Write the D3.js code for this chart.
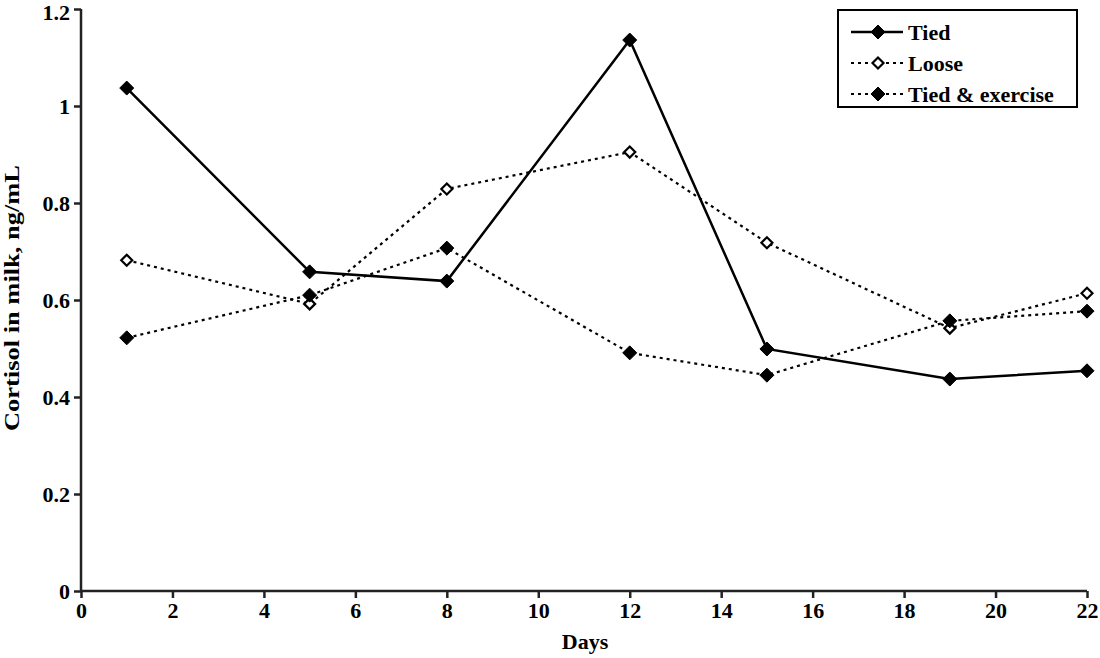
<!DOCTYPE html>
<html><head><meta charset="utf-8">
<script src="https://cdn.jsdelivr.net/npm/d3@7"></script>
<style>body{margin:0;background:#fff}svg{display:block}</style>
</head><body><svg id="c" width="1100" height="658"></svg>
<script>
const days = [1, 5, 8, 12, 15, 19, 22];
const tied = [1.037, 0.658, 0.639, 1.136, 0.499, 0.437, 0.454];
const loose = [0.682, 0.592, 0.829, 0.905, 0.718, 0.542, 0.614];
const tiedExercise = [0.522, 0.610, 0.707, 0.491, 0.445, 0.557, 0.577];
const xTicks = [0, 2, 4, 6, 8, 10, 12, 14, 16, 18, 20, 22];
const yTicks = [0, 0.2, 0.4, 0.6, 0.8, 1, 1.2];
const seriesNames = ["Tied", "Loose", "Tied & exercise"];

const FONT = "'Liberation Serif', 'Times New Roman', Times, serif";
const svg = d3.select("#c");
const x = d3.scaleLinear().domain([0, 22]).range([81, 1087]);
const y = d3.scaleLinear().domain([0, 1.2]).range([591, 9]);

const series = [
  {name: seriesNames[0], vals: tied, dash: null, fill: "#000"},
  {name: seriesNames[1], vals: loose, dash: "3,4", fill: "#fff"},
  {name: seriesNames[2], vals: tiedExercise, dash: "3,4", fill: "#000"}
];

function diamond(r) { return `M0,${-r}L${r},0L0,${r}L${-r},0Z`; }

function styleText(sel, size) {
  sel.attr("font-family", FONT).style("font-family", FONT).attr("font-weight", "bold")
     .style("font-weight", "bold").attr("font-size", size).style("font-size", size + "px").attr("fill", "#000");
  return sel;
}

// axes
const xAxis = d3.axisBottom(x).tickValues(xTicks).tickFormat(d3.format("d")).tickSize(7).tickSizeOuter(0);
const yAxis = d3.axisLeft(y).tickValues(yTicks).tickFormat(d => d === 0 || d === 1 ? String(d) : d3.format(".1f")(d)).tickSize(7).tickSizeOuter(0);
const gx = svg.append("g").attr("transform", "translate(0,591)").call(xAxis);
const gy = svg.append("g").attr("transform", "translate(81,0)").call(yAxis);
[gx, gy].forEach(g => {
  g.attr("font-family", FONT).attr("font-size", 22);
  g.select(".domain").attr("stroke", "#222").attr("stroke-width", 2.5);
  g.selectAll(".tick line").attr("stroke", "#222").attr("stroke-width", 2.5);
  styleText(g.selectAll("text"), 22);
});
gx.selectAll("text").attr("dy", 0).attr("y", 27);
gy.selectAll("text").attr("x", -11).attr("dy", d => d === 1.2 ? "0.48em" : "0.34em");
gy.select(".domain").attr("d", "M0,591V9");
gx.select(".domain").attr("d", "M81,0H1087");

styleText(svg.append("text").attr("x", 585).attr("y", 649).attr("text-anchor", "middle").text("Days"), 22);
styleText(svg.append("text").attr("transform", "translate(19,298) rotate(-90)").attr("text-anchor", "middle")
  .attr("textLength", 266).attr("lengthAdjust", "spacingAndGlyphs").text("Cortisol in milk, ng/mL"), 21);

const line = d3.line().x(d => x(d[0])).y(d => y(d[1]));

series.forEach(s => {
  const pts = days.map((d, i) => [d, s.vals[i]]);
  svg.append("path").attr("d", line(pts)).attr("fill", "none").attr("stroke", "#000")
    .attr("stroke-width", s.dash ? 2.2 : 2.5).attr("stroke-dasharray", s.dash);
});
series.forEach(s => {
  const pts = days.map((d, i) => [d, s.vals[i]]);
  const hollow = s.fill === "#fff";
  svg.append("g").selectAll("path").data(pts).join("path")
    .attr("transform", d => `translate(${x(d[0])},${y(d[1])})`)
    .attr("d", hollow ? diamond(5.5) : diamond(7))
    .attr("fill", s.fill).attr("stroke", "#000").attr("stroke-width", hollow ? 2.2 : 1);
});

// legend
const lg = svg.append("g");
lg.append("rect").attr("x", 838).attr("y", 10).attr("width", 239).attr("height", 97)
  .attr("fill", "#fff").attr("stroke", "#000").attr("stroke-width", 2);
series.forEach((s, i) => {
  const ly = 32 + i * 31;
  const hollow = s.fill === "#fff";
  lg.append("line").attr("x1", 851).attr("x2", 903).attr("y1", ly).attr("y2", ly)
    .attr("stroke", "#000").attr("stroke-width", s.dash ? 2 : 2.5).attr("stroke-dasharray", s.dash);
  lg.append("path").attr("transform", `translate(878,${ly})`)
    .attr("d", hollow ? diamond(5.5) : diamond(7))
    .attr("fill", s.fill).attr("stroke", "#000").attr("stroke-width", hollow ? 2.2 : 1);
  styleText(lg.append("text").attr("x", 908).attr("y", ly + 7.5).text(s.name), 22);
});
</script></body></html>
